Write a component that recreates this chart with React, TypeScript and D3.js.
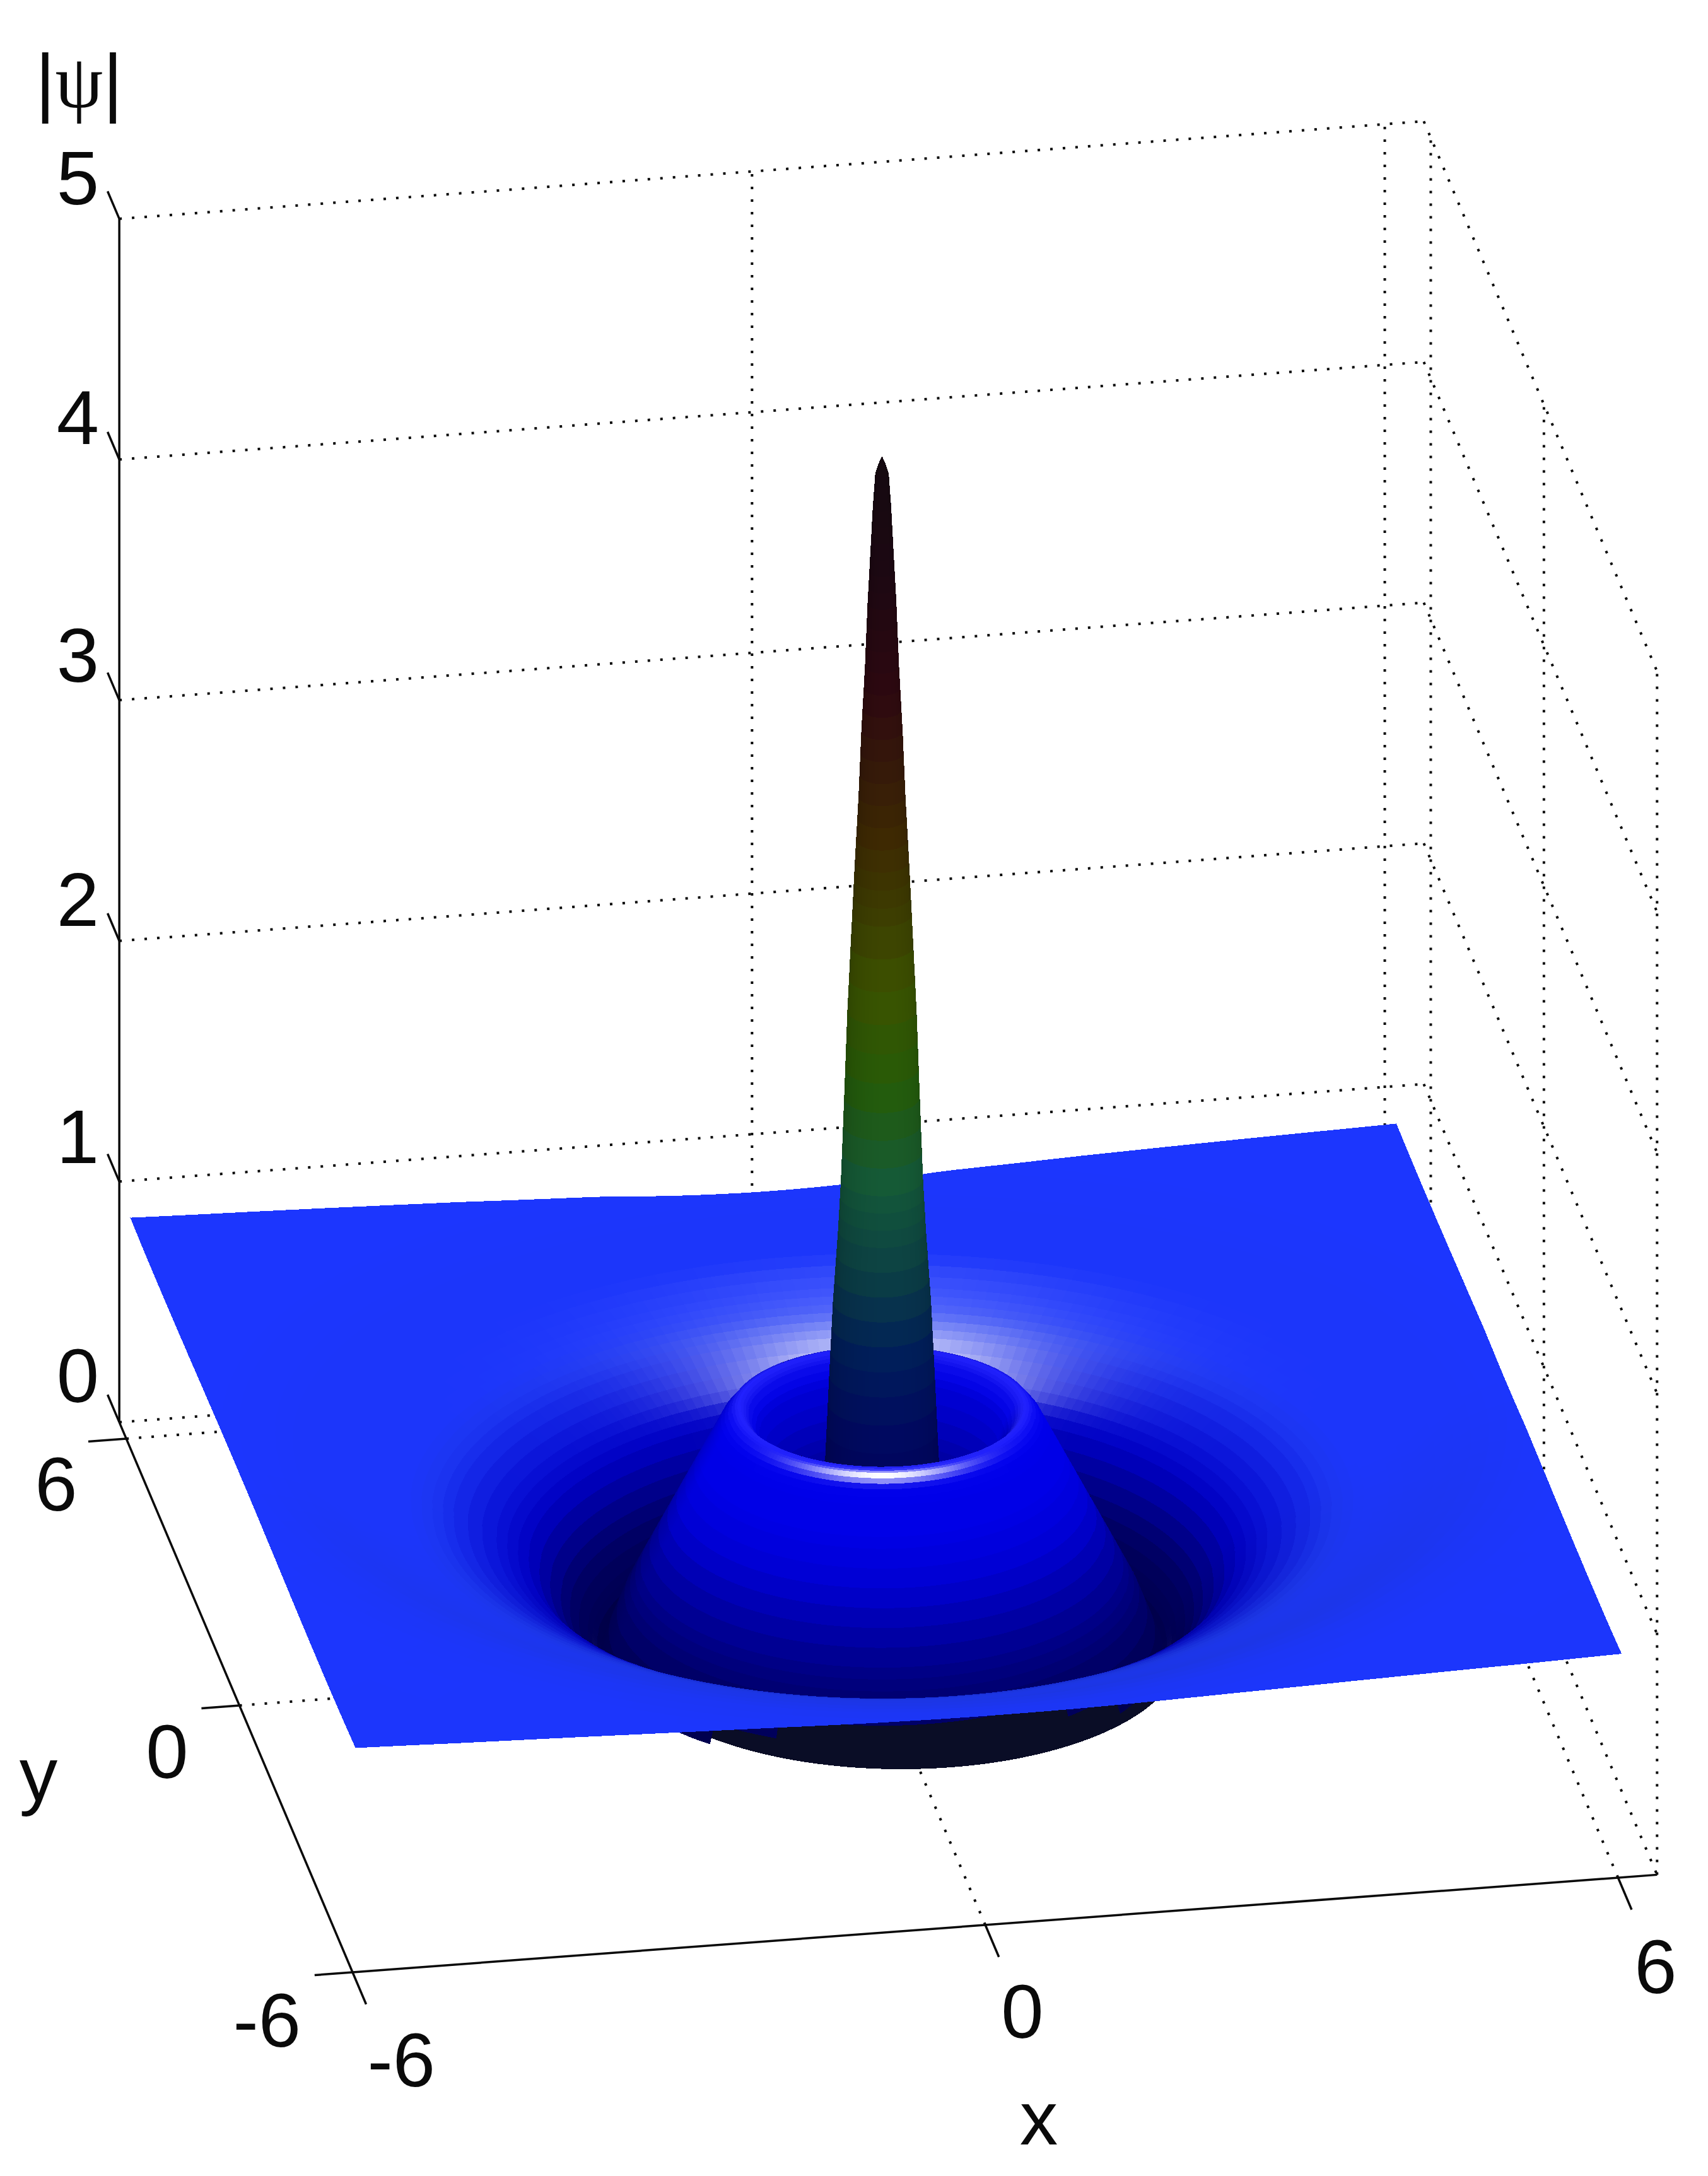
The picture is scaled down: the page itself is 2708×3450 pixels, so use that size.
import React, { useEffect, useRef } from "react";
import * as d3 from "d3";

const WIDTH = 2708;
const HEIGHT = 3450;

// axis ticks and limits
const xTicks = [-6, 0, 6];
const yTicks = [-6, 0, 6];
const zTicks = [0, 1, 2, 3, 4, 5];
const xMax = 6.37;
const yMax = 6.37;

// radial profile of |psi|
const profileR = [
  0, 0.03, 0.06, 0.083, 0.107, 0.132, 0.156, 0.19, 0.216, 0.25, 0.275, 0.32, 0.35, 0.38, 0.407, 0.455, 0.49, 0.527,
  0.6, 0.7, 0.85, 1.0, 1.15, 1.25, 1.32, 1.4, 1.5, 1.6, 1.75, 2.0, 2.25, 2.4, 2.62,
  2.75, 3.0, 3.3, 3.6, 4.0, 4.3, 4.6, 5.0, 5.5, 6.0, 6.5, 7.0, 8.0, 9.0,
];
const profileZ = [
  4.96, 4.93, 4.89, 4.75, 4.55, 4.35, 4.09, 3.82, 3.55, 3.28, 3.06, 2.66, 2.3, 1.96, 1.75, 1.45, 1.145, 0.8,
  0.62, 0.56, 0.6, 0.72, 0.9, 0.98, 1.01, 1.0, 0.95, 0.87, 0.75, 0.55, 0.35, 0.23, 0,
  0.08, 0.22, 0.38, 0.46, 0.55, 0.6, 0.645, 0.71, 0.81, 0.865, 0.88, 0.89, 0.91, 0.94,
];
// height the plate settles at towards its left and right edges
const plateHeight = 0.935;

// spike colours by height
const spikeHeights = [0.6, 1, 1.3, 1.6, 2, 2.4, 2.8, 3.4, 4, 4.5, 5];
const spikeColors = [
  "#00005a", "#000a60", "#001e5a", "#0a3c46", "#145a38", "#255c08", "#3c5200", "#3e2a02", "#2e0810", "#1c0812", "#140a10",
];

// plate edges and centre of the structure, in data units
const plateX = [-5.97, 6.03];
const plateY = [-6, 5.93];
const centerX = 0.12;
const centerY = 0.15;

// orthographic view, fitted to the box corners
const originX = 1382.8;
const originY = 2629;
const xH = d3.scaleLinear().domain([-6, 6]).range([-1003.2, 1003.2]);
const xV = d3.scaleLinear().domain([-6, 6]).range([75, -75]);
const yH = d3.scaleLinear().domain([-6, 6]).range([179.4, -179.4]);
const yV = d3.scaleLinear().domain([-6, 6]).range([423, -423]);
const zV = d3.scaleLinear().domain([0, 5]).range([0, -1908]);

const project = (x: number, y: number, z: number): [number, number] => [
  originX + xH(x) + yH(y),
  originY + xV(x) + yV(y) + zV(z),
];
const depth = (x: number, y: number, z: number) => 0.179 * x + y - 0.19 * z;

const zAt = d3.scaleLinear().domain(profileR).range(profileZ).clamp(true);
const profileSlope = profileR.map((_, i) => {
  const a = Math.max(i - 1, 0);
  const b = Math.min(i + 1, profileR.length - 1);
  return (profileZ[b] - profileZ[a]) / (profileR[b] - profileR[a]);
});
const slopeAt = d3.scaleLinear().domain(profileR).range(profileSlope).clamp(true);

const spikeColor = d3.scaleLinear<string>().domain(spikeHeights).range(spikeColors).clamp(true);
const haloMask = d3.scaleLinear().domain([0, 3.3, 3.7, 4.2, 5.0]).range([1, 1, 1, 0.85, 0]).clamp(true);

const clamp01 = (v: number) => Math.max(0, Math.min(1, v));
const bump = (v: number, at: number, w: number) => Math.exp(-((v - at) * (v - at)) / (w * w));

// the far field only sags along the front and back edges, the side edges stay straight
const surfaceZ = (r: number, theta: number) => {
  const z = zAt(r);
  const c = Math.cos(theta);
  return z + (plateHeight - z) * c * c * clamp01((r - 5) / 1);
};

function jet(t: number): [number, number, number] {
  const ramp = (v: number) => clamp01(Math.min(v + 1.5, 1.5 - v));
  const s = 4 * t - 2;
  return [ramp(s - 1), ramp(s), ramp(s + 1)];
}

function faceColor(r: number, theta: number) {
  const z = zAt(r);
  const slope = slopeAt(r);
  const gx = slope * Math.cos(theta);
  const gy = slope * Math.sin(theta);
  const steep = z > 1.2 ? 1 : clamp01((Math.abs(slope) - 1.5) / 2.5);
  const facing = 0.82 + 0.18 * Math.max(0, -Math.sin(theta));
  const spike = d3.rgb(spikeColor(z));
  const spikeRgb = [spike.r, spike.g, spike.b].map((c) => (c / 255) * facing);
  if (steep === 1) return d3.rgb(spikeRgb[0] * 255, spikeRgb[1] * 255, spikeRgb[2] * 255).formatRgb();

  const plateau = clamp01((r - 3.3) / 0.9);
  const low = Math.max(0.3, Math.min(1, 1 - 0.12 * Math.abs(slope) + 0.5 * Math.min(gy, 0)));
  const deep = 0.6 + 0.4 * clamp01(z / 0.8);
  const bowl = 0.65 + 0.35 * clamp01((r - 0.8) / 0.4);
  const dim = (r < 2.9 ? deep : deep + (1 - deep) * clamp01((r - 2.9) / 0.4)) * bowl;
  const shade = low * dim;
  const base = jet(z / 5);
  const rgb = [0.11 * plateau, 0.21 * plateau, base[2] * shade];

  // highlight sits on slopes turned towards the camera
  const dx = gx - 0.046;
  const dy = gy - 0.255;
  let spec = 1.0 * Math.exp(-(dx * dx + dy * dy) / (2 * 0.07 * 0.07)) * haloMask(r) * (r > 2.7 ? 1 : 0);
  // thin light line along the rim, strongest on its front
  const front = Math.acos(Math.max(-1, Math.min(1, -(0.176 * Math.cos(theta) + 0.984 * Math.sin(theta)))));
  spec += 0.95 * bump(r, 1.42, 0.04) * bump(front, 0, 0.55);
  spec += 0.13 * bump(r, 1.33, 0.09);
  // faint streaks where the lower wall folds on both sides
  spec += 0.3 * bump(r, 2.68, 0.035) * bump(front, 1.22, 0.2);
  spec = clamp01(spec);

  const lowRgb = rgb.map((c) => c + (1 - c) * spec);
  const out = lowRgb.map((c, i) => Math.round(255 * clamp01(c + (spikeRgb[i] - c) * steep)));
  return `rgb(${out[0]},${out[1]},${out[2]})`;
}

// distance from the centre to the plate edge along a direction
function edgeRadius(theta: number) {
  const c = Math.cos(theta);
  const s = Math.sin(theta);
  const tx = c > 0 ? (plateX[1] - centerX) / c : c < 0 ? (plateX[0] - centerX) / c : Infinity;
  const ty = s > 0 ? (plateY[1] - centerY) / s : s < 0 ? (plateY[0] - centerY) / s : Infinity;
  return Math.min(tx, ty);
}

// the underside seen below the plate sits further right than the ring above it
const undersideShift = 30;
const undersideColor = "#0a0d26";

function buildFaces() {
  const rings: number[] = [];
  profileR.forEach((r, i) => {
    if (i === profileR.length - 1) {
      rings.push(r);
      return;
    }
    const next = profileR[i + 1];
    rings.push(r, r + (next - r) / 3, r + ((next - r) * 2) / 3);
  });
  const corners = [
    [plateX[0], plateY[0]],
    [plateX[1], plateY[0]],
    [plateX[1], plateY[1]],
    [plateX[0], plateY[1]],
  ].map(([x, y]) => {
    const a = Math.atan2(y - centerY, x - centerX);
    return a < 0 ? a + 2 * Math.PI : a;
  });
  const angles = d3.sort([...d3.range(240).map((j) => (j / 240) * 2 * Math.PI), ...corners]);
  angles.push(angles[0] + 2 * Math.PI);

  // chord of the plate's front edge, the wall below it is only seen from underneath
  const edgeA = project(plateX[0], plateY[0], plateHeight);
  const edgeB = project(plateX[1], plateY[0], plateHeight);
  const edgeLine = d3.scaleLinear().domain([edgeA[0], edgeB[0]]).range([edgeA[1] + 20, edgeB[1] + 20]);

  const faces: { d: string; fill: string; depth: number }[] = [];
  for (let j = 0; j < angles.length - 1; j++) {
    const t1 = angles[j];
    const t2 = angles[j + 1];
    const e1 = edgeRadius(t1);
    const e2 = edgeRadius(t2);
    for (let i = 0; i < rings.length - 1; i++) {
      const corner = (ri: number, t: number, e: number) => {
        const r = Math.min(ri, e);
        return [centerX + r * Math.cos(t), centerY + r * Math.sin(t), surfaceZ(r, t)];
      };
      const p3 = [
        corner(rings[i], t1, e1),
        corner(rings[i + 1], t1, e1),
        corner(rings[i + 1], t2, e2),
        corner(rings[i], t2, e2),
      ];
      const p2 = p3.map((p) => project(p[0], p[1], p[2]));
      // d3.polygonArea is positive for faces turned towards the viewer here
      const area = d3.polygonArea(p2);
      if (Math.abs(area) < 1e-6) continue;
      const mid = (rings[i] + rings[i + 1]) / 2;
      const tm = (t1 + t2) / 2;
      const back = area < 0;
      const c = d3.polygonCentroid(p2);
      const hiddenWall = !back && mid < 2.62 && c[1] > edgeLine(c[0]);
      const under = hiddenWall || (back && mid > 2.3 && Math.sin(tm) < 0);
      const shift = under ? undersideShift : 0;
      faces.push({
        d: "M" + p2.map((p) => `${(p[0] + shift).toFixed(1)},${p[1].toFixed(1)}`).join("L") + "Z",
        fill: back || hiddenWall ? undersideColor : faceColor(Math.min(mid, Math.min(e1, e2)), tm),
        // the shifted underside goes first, everything above paints over it
        depth: under ? 100 : (d3.mean(p3, (p) => depth(p[0], p[1], p[2])) as number),
      });
    }
  }
  return d3.sort(faces, (a, b) => b.depth - a.depth);
}

// dotted grid lines on the floor and the two back walls
const gridLines: [number[], number[]][] = [
  ...zTicks.map((z): [number[], number[]] => [[-6, yMax, z], [xMax, yMax, z]]),
  ...zTicks.map((z): [number[], number[]] => [[xMax, yMax, z], [xMax, -6, z]]),
  ...xTicks.slice(1).map((x): [number[], number[]] => [[x, yMax, 0], [x, yMax, 5]]),
  ...yTicks.map((y): [number[], number[]] => [[xMax, y, 0], [xMax, y, 5]]),
  ...xTicks.slice(1).map((x): [number[], number[]] => [[x, -6, 0], [x, yMax, 0]]),
  ...yTicks.slice(1).map((y): [number[], number[]] => [[-6, y, 0], [xMax, y, 0]]),
];

const axisLines: [number[], number[]][] = [
  [[-6, yMax, 0], [-6, yMax, 5]],
  [[-6, -6, 0], [xMax, -6, 0]],
  [[-6, -6, 0], [-6, yMax, 0]],
  ...zTicks.map((z): [number[], number[]] => [[-6, yMax, z], [-6, yMax + 0.62, z]]),
  ...xTicks.map((x): [number[], number[]] => [[x, -6, 0], [x, -6.72, 0]]),
  ...yTicks.map((y): [number[], number[]] => [[-6, y, 0], [-6.36, y, 0]]),
];

const font = "'Liberation Sans', Arial, sans-serif";

const lineProps = (a: number[], b: number[]) => {
  const [x1, y1] = project(a[0], a[1], a[2]);
  const [x2, y2] = project(b[0], b[1], b[2]);
  return { x1, y1, x2, y2 };
};

export default function App() {
  const surfaceRef = useRef<SVGGElement>(null);

  useEffect(() => {
    if (!surfaceRef.current) return;
    d3.select(surfaceRef.current)
      .selectAll("path")
      .data(buildFaces())
      .join("path")
      .attr("d", (d) => d.d)
      .attr("fill", (d) => d.fill)
      .attr("stroke", (d) => d.fill)
      .attr("stroke-width", 1);
  }, []);

  const label = (text: string, x: number, y: number, anchor = "middle") => (
    <text key={`${text}-${x}`} x={x} y={y} textAnchor={anchor} fontFamily={font} fontSize={121} fill="#0a0a0a">
      {text}
    </text>
  );

  return (
    <svg
      width={WIDTH}
      height={HEIGHT}
      viewBox={`0 0 ${WIDTH} ${HEIGHT}`}
      style={{ position: "absolute", left: 0, top: 0, background: "#fff" }}
    >
      <g stroke="#0a0a0a" strokeWidth={4} strokeDasharray="4 16" fill="none">
        {gridLines.map(([a, b], i) => (
          <line key={i} {...lineProps(a, b)} />
        ))}
      </g>
      <g stroke="#0a0a0a" strokeWidth={3.5} fill="none">
        {axisLines.map(([a, b], i) => (
          <line key={i} {...lineProps(a, b)} />
        ))}
      </g>
      <g ref={surfaceRef} shapeRendering="crispEdges" />
      {label("5", 157, 324, "end")}
      {label("4", 157, 704, "end")}
      {label("3", 157, 1081, "end")}
      {label("2", 157, 1468, "end")}
      {label("1", 157, 1844, "end")}
      {label("0", 157, 2223, "end")}
      {label("6", 89, 2395)}
      {label("0", 265, 2819)}
      {label("-6", 477, 3245, "end")}
      {label("-6", 690, 3308, "end")}
      {label("0", 1621, 3231)}
      {label("6", 2625, 3160)}
      {label("x", 1647, 3400)}
      {label("y", 61, 2855)}
      <text x={56} y={170} fontSize={121} fill="#0a0a0a" fontFamily={font}>
        |<tspan fontFamily="'Liberation Serif', serif">ψ</tspan>|
      </text>
    </svg>
  );
}
